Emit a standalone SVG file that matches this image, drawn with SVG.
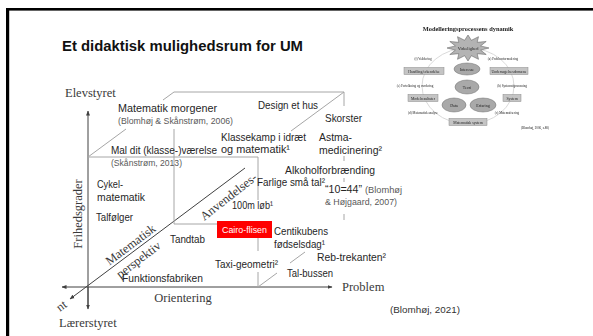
<svg xmlns="http://www.w3.org/2000/svg" width="593" height="336" viewBox="0 0 593 336">
  <defs>
    <style>
      .axis { stroke: #404040; stroke-width: 1; fill: none; }
      .edge { stroke: #a6a6a6; stroke-width: 1; fill: none; }
      .lbl { font-family: "Liberation Sans", Arial, sans-serif; font-size: 10.5px; fill: #262626; }
      .cite { font-family: "Liberation Sans", Arial, sans-serif; font-size: 8.8px; fill: #595959; }
      .ser { font-family: "Liberation Serif", "Times New Roman", serif; font-size: 12.5px; fill: #3a3a3a; }
      .th { font-family: "Liberation Serif", "Times New Roman", serif; fill: #222; }
      .oval { fill: #a9a9a9; stroke: #6e6e6e; stroke-width: 0.5; }
      .box { fill: #c4c4c4; stroke: #8a8a8a; stroke-width: 0.5; }
    </style>
    <marker id="arr" viewBox="0 0 10 10" refX="9" refY="5" markerWidth="5" markerHeight="5" orient="auto-start-reverse" markerUnits="userSpaceOnUse">
      <path d="M0,1 L10,5 L0,9 Z" fill="#404040"/>
    </marker>
    <filter id="soft" x="-5%" y="-5%" width="110%" height="110%">
      <feGaussianBlur stdDeviation="0.45"/>
    </filter>
  </defs>

  <!-- page -->
  <rect width="593" height="336" fill="#ffffff"/>
  <rect x="6" y="8" width="587" height="2.6" fill="#000"/>
  <rect x="6" y="8" width="3.2" height="328" fill="#000"/>

  <!-- title -->
  <text x="62" y="51" font-family="Liberation Sans, Arial, sans-serif" font-size="14" font-weight="bold" fill="#111" textLength="241" lengthAdjust="spacingAndGlyphs">Et didaktisk mulighedsrum for UM</text>

  <!-- connectors: axes and cube edges -->
  <g id="connectors">
    <line class="axis" x1="88" y1="307" x2="88" y2="111" marker-end="url(#arr)"/>
    <line class="axis" x1="88" y1="287" x2="88" y2="309" marker-end="url(#arr)"/>
    <line class="axis" x1="62" y1="287" x2="332" y2="287" marker-start="url(#arr)" marker-end="url(#arr)"/>
    <line class="axis" x1="245" y1="168" x2="70" y2="299" marker-end="url(#arr)"/>

    <line class="edge" x1="88" y1="157" x2="258" y2="157"/>
    <line class="edge" x1="258" y1="157" x2="258" y2="200"/>
    <line class="edge" x1="258" y1="238" x2="258" y2="251"/>
    <line class="edge" x1="258" y1="272" x2="258" y2="287"/>
    <line class="edge" x1="88" y1="157" x2="126" y2="129"/>
    <line class="edge" x1="163" y1="100" x2="174" y2="92"/>
    <line class="edge" x1="174" y1="92" x2="344" y2="92"/>
    <line class="edge" x1="174" y1="129" x2="174" y2="224"/>
    <line class="edge" x1="174" y1="224" x2="217" y2="224"/>
    <line class="edge" x1="291" y1="131" x2="344" y2="92"/>
    <line class="edge" x1="344" y1="92" x2="344" y2="106"/>
    <line class="edge" x1="344" y1="156" x2="344" y2="161"/>
    <line class="edge" x1="344" y1="178" x2="344" y2="182"/>
    <line class="edge" x1="344" y1="214" x2="344" y2="220"/>
    <line class="edge" x1="258" y1="287" x2="277" y2="273"/>
    <line class="edge" x1="290" y1="263" x2="305" y2="252"/>
  </g>

  <!-- axis labels -->
  <g id="axis-labels">
    <text class="ser" x="65" y="97">Elevstyret</text>
    <text class="ser" x="59" y="327">Lærerstyret</text>
    <text class="ser" x="183" y="302" text-anchor="middle">Orientering</text>
    <text class="ser" x="342" y="291">Problem</text>
    <text class="ser" transform="translate(82,214) rotate(-90)" text-anchor="middle">Frihedsgrader</text>
    <text class="ser" transform="translate(133,248) rotate(-37)" text-anchor="middle">Matematisk</text>
    <text class="ser" transform="translate(141,263) rotate(-37)" text-anchor="middle">perspektiv</text>
    <text class="ser" transform="translate(231,200) rotate(-38)" text-anchor="middle">Anvendelses-</text>
    <text class="ser" transform="translate(64,309) rotate(-37)" text-anchor="middle">nt</text>
  </g>

  <!-- examples placed in the space -->
  <g id="examples">
    <g id="n-morgener"><text class="lbl" x="118" y="112" textLength="99" lengthAdjust="spacingAndGlyphs">Matematik morgener</text><text class="cite" x="118" y="124" textLength="115" lengthAdjust="spacingAndGlyphs">(Blomhøj &amp; Skånstrøm, 2006)</text></g>
    <g id="n-design"><text class="lbl" x="258" y="109" textLength="60" lengthAdjust="spacingAndGlyphs">Design et hus</text></g>
    <g id="n-skorster"><text class="lbl" x="325" y="122" textLength="37" lengthAdjust="spacingAndGlyphs">Skorster</text></g>
    <g id="n-klassekamp"><text class="lbl" x="221" y="141" textLength="85" lengthAdjust="spacingAndGlyphs">Klassekamp i idræt</text><text class="lbl" x="221" y="153" textLength="69" lengthAdjust="spacingAndGlyphs">og matematik¹</text></g>
    <g id="n-astma"><text class="lbl" x="319" y="141" textLength="33" lengthAdjust="spacingAndGlyphs">Astma-</text><text class="lbl" x="319" y="154" textLength="63" lengthAdjust="spacingAndGlyphs">medicinering²</text></g>
    <g id="n-maldit"><text class="lbl" x="111" y="154" textLength="106" lengthAdjust="spacingAndGlyphs">Mal dit (klasse-)værelse</text><text class="cite" x="111" y="166" textLength="71" lengthAdjust="spacingAndGlyphs">(Skånstrøm, 2013)</text></g>
    <g id="n-alkohol"><text class="lbl" x="285" y="174" textLength="90" lengthAdjust="spacingAndGlyphs">Alkoholforbrænding</text></g>
    <g id="n-farlige"><text class="lbl" x="257" y="186" textLength="68" lengthAdjust="spacingAndGlyphs">Farlige små tal²</text></g>
    <g id="n-1044"><text class="lbl" x="325" y="193" textLength="37" lengthAdjust="spacingAndGlyphs">“10=44”</text><text class="cite" x="365" y="193" textLength="37" lengthAdjust="spacingAndGlyphs">(Blomhøj</text><text class="cite" x="325" y="205" textLength="72" lengthAdjust="spacingAndGlyphs">&amp; Højgaard, 2007)</text></g>
    <g id="n-cykel"><text class="lbl" x="97" y="188" textLength="26" lengthAdjust="spacingAndGlyphs">Cykel-</text><text class="lbl" x="97" y="201" textLength="48" lengthAdjust="spacingAndGlyphs">matematik</text></g>
    <g id="n-talfolger"><text class="lbl" x="96" y="221" textLength="37" lengthAdjust="spacingAndGlyphs">Talfølger</text></g>
    <g id="n-100m"><text class="lbl" x="232" y="209" textLength="41" lengthAdjust="spacingAndGlyphs">100m løb¹</text></g>
    <g id="n-cairo">
      <rect x="217" y="221" width="55" height="17" fill="#ff0000"/>
      <text x="244.5" y="232.5" text-anchor="middle" font-family="Liberation Sans, Arial, sans-serif" font-size="9" fill="#ffffff" textLength="45" lengthAdjust="spacingAndGlyphs">Cairo-flisen</text>
    </g>
    <g id="n-centikubens"><text class="lbl" x="274" y="235" textLength="54" lengthAdjust="spacingAndGlyphs">Centikubens</text><text class="lbl" x="274" y="248" textLength="51" lengthAdjust="spacingAndGlyphs">fødselsdag¹</text></g>
    <g id="n-tandtab"><text class="lbl" x="170" y="243" textLength="35" lengthAdjust="spacingAndGlyphs">Tandtab</text></g>
    <g id="n-taxi"><text class="lbl" x="215" y="268" textLength="63" lengthAdjust="spacingAndGlyphs">Taxi-geometri²</text></g>
    <g id="n-reb"><text class="lbl" x="317" y="261" textLength="69" lengthAdjust="spacingAndGlyphs">Reb-trekanten²</text></g>
    <g id="n-talbussen"><text class="lbl" x="287" y="277" textLength="46" lengthAdjust="spacingAndGlyphs">Tal-bussen</text></g>
    <g id="n-funktion"><text class="lbl" x="122" y="282" textLength="81" lengthAdjust="spacingAndGlyphs">Funktionsfabriken</text></g>
  </g>

  <text x="390" y="313" font-family="Liberation Sans, Arial, sans-serif" font-size="9.6" fill="#333" textLength="70" lengthAdjust="spacingAndGlyphs">(Blomhøj, 2021)</text>

  <!-- small modelling-cycle figure -->
  <g id="modelling-cycle" filter="url(#soft)">
    <text class="th" x="468" y="31" font-size="6.4" font-weight="bold" text-anchor="middle">Modelleringsprocessens dynamik</text>
    <ellipse cx="468" cy="86" rx="46" ry="38" fill="none" stroke="#cfcfcf" stroke-width="0.8"/>
    <polygon points="489,48 480.6,45.9 486.2,41.5 477.2,42.3 478.5,36.7 471.4,40.3 468,35 464.6,40.3 457.5,36.7 458.8,42.3 449.8,41.5 455.4,45.9 447,48 455.4,50.1 449.8,54.5 458.8,53.7 457.5,59.3 464.6,55.7 468,61 471.4,55.7 478.5,59.3 477.2,53.7 486.2,54.5 480.6,50.1" fill="#b3b3b3" stroke="#555" stroke-width="0.5"/>
    <text class="th" x="468" y="49.5" font-size="4.4" text-anchor="middle">Virkelighed</text>

    <ellipse class="oval" cx="467" cy="69" rx="13" ry="6"/>
    <text class="th" x="467" y="70.5" font-size="4" text-anchor="middle">Interesse</text>
    <ellipse class="oval" cx="467" cy="87" rx="12" ry="7"/>
    <text class="th" x="467" y="88.5" font-size="4" text-anchor="middle">Teori</text>
    <ellipse class="oval" cx="454" cy="105" rx="12" ry="7"/>
    <text class="th" x="454" y="106.5" font-size="4" text-anchor="middle">Data</text>
    <ellipse class="oval" cx="483" cy="105" rx="13" ry="7"/>
    <text class="th" x="483" y="106.5" font-size="4" text-anchor="middle">Erfaring</text>

    <rect class="box" x="404" y="67.5" width="40" height="7"/>
    <text class="th" x="424" y="72.5" font-size="3.8" text-anchor="middle">Handling/erkendelse</text>
    <rect class="box" x="490" y="67.5" width="38" height="7"/>
    <text class="th" x="509" y="72.5" font-size="3.8" text-anchor="middle">Undersøgelsesdomæne</text>
    <rect class="box" x="408" y="94.5" width="30" height="7"/>
    <text class="th" x="423" y="99.5" font-size="3.8" text-anchor="middle">Modelresultater</text>
    <rect class="box" x="503" y="94.5" width="18" height="7"/>
    <text class="th" x="512" y="99.5" font-size="3.8" text-anchor="middle">System</text>
    <rect class="box" x="449" y="118.5" width="38" height="7"/>
    <text class="th" x="468" y="123.5" font-size="3.8" text-anchor="middle">Matematisk system</text>

    <text class="th" x="423" y="59.5" font-size="3.2" text-anchor="middle">(f) Validering</text>
    <text class="th" x="503" y="59.5" font-size="3.2" text-anchor="middle">(a) Problemformulering</text>
    <text class="th" x="415" y="86.5" font-size="3.2" text-anchor="middle">(e) Fortolkning og vurdering</text>
    <text class="th" x="512" y="86.5" font-size="3.2" text-anchor="middle">(b) Systemafgrænsning</text>
    <text class="th" x="423" y="113.5" font-size="3.2" text-anchor="middle">(d) Matematisk analyse</text>
    <text class="th" x="507" y="113.5" font-size="3.2" text-anchor="middle">(c) Matematisering</text>
    <text class="th" x="535" y="128.5" font-size="3.2" text-anchor="middle">(Blomhøj, 2006, s.88)</text>
  </g>
</svg>
